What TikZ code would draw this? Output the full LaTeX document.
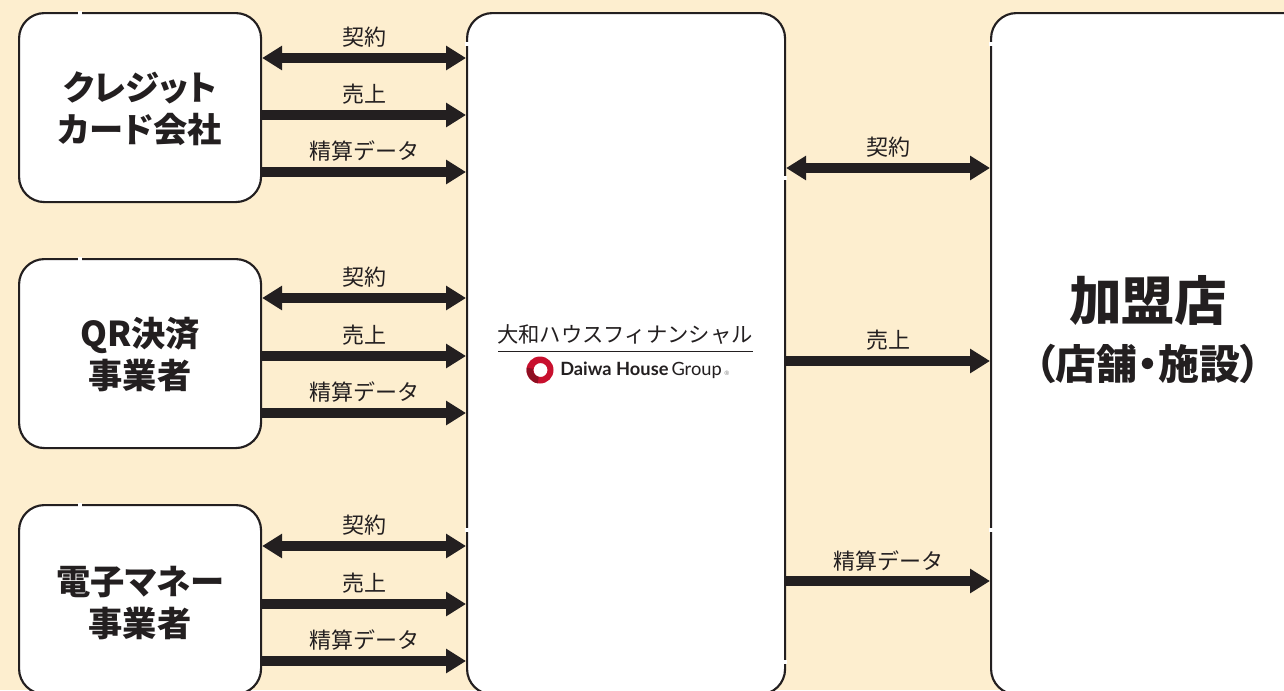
\documentclass[tikz,border=0pt]{standalone}
\usepackage{fontspec}
\setmainfont{Noto Sans CJK JP}
\newfontfamily\headfont{Noto Sans CJK JP}[RawFeature=+palt]
\newfontfamily\logofont{Lato}
\usetikzlibrary{arrows.meta}
\definecolor{creamback}{HTML}{FDEECF}
\definecolor{inkline}{HTML}{231F20}
\definecolor{logored}{HTML}{C8102E}
\definecolor{logodark}{HTML}{8E0F22}
\tikzset{
	partybox/.style={draw=inkline,fill=white,line width=1.6pt,rounded corners=19pt,anchor=north west,inner sep=0pt},
	boxtext/.style={align=center,text=inkline,font=\headfont\bfseries\fontsize{25.7}{31.5}\selectfont,inner sep=0pt},
	flowlabel/.style={text=inkline,font=\fontsize{16.5}{18}\selectfont,inner sep=0pt},
	oneway/.style={draw=inkline,line width=6.8pt,-{Triangle[length=15pt,width=17.5pt,inkline]}},
	twoway/.style={draw=inkline,line width=6.8pt,{Triangle[length=15pt,width=17.5pt,inkline]}-{Triangle[length=15pt,width=17.5pt,inkline]}},
	gapmark/.style={draw=white,line width=2.4pt}
}
\begin{document}
\begin{tikzpicture}[x=0.75pt,y=-0.75pt,line join=round]
	\useasboundingbox (0,0) rectangle (1284,690);
	\clip (0,0) rectangle (1284,690);
	\fill[creamback] (0,0) rectangle (1284,690);
	% boxes
	\node[partybox,minimum width=181.5pt,minimum height=141.75pt] (cardbox) at (18,12) {};
	\node[partybox,minimum width=181.5pt,minimum height=141.75pt] (qrbox) at (18,258) {};
	\node[partybox,minimum width=181.5pt,minimum height=141.75pt] (moneybox) at (18,504) {};
	\node[partybox,minimum width=238.5pt,minimum height=511pt] (finbox) at (466,12) {};
	\node[partybox,minimum width=238.5pt,minimum height=511pt] (shopbox) at (990,12) {};
	\node[boxtext] (cardtext) at (140,109) {クレジット\\カード会社};
	\node[boxtext] (qrtext) at (140,355) {QR決済\\事業者};
	\node[boxtext] (moneytext) at (140,603) {電子マネー\\事業者};
	\node[boxtext,font=\headfont\bfseries\fontsize{39.5}{50}\selectfont] (shoptext) at (1148,300) {加盟店};
	\node[boxtext,font=\headfont\bfseries\fontsize{30.7}{36}\selectfont] (shopsub) at (1148,364) {（店舗・施設）};
	% small breaks in the outlines
	\foreach \y in {13,259,505} \draw[gapmark] (80,\y-2)--(80,\y+2);
	\foreach \y in {44,530} \draw[gapmark] (467,\y-2)--(467,\y+2) (991,\y-2)--(991,\y+2);
	\foreach \y in {178,662} \draw[gapmark] (785,\y-2)--(785,\y+2);
	% left arrows
	\foreach \src/\a/\b/\c in {cardbox/58/115/172,qrbox/298/356/413,moneybox/546/604/661}{
		\draw[twoway] (\src.east |- 0,\a) -- (finbox.west |- 0,\a);
		\draw[oneway] (\src.east |- 0,\b) -- (finbox.west |- 0,\b);
		\draw[oneway] (\src.east |- 0,\c) -- (finbox.west |- 0,\c);
		\node[flowlabel] (\src a) at (364,\a-20.5) {契約};
		\node[flowlabel] (\src b) at (364,\b-20.5) {売上};
		\node[flowlabel] (\src c) at (364,\c-20.5) {精算データ};
	}
	% right arrows
	\draw[twoway] (finbox.east |- 0,168) -- (shopbox.west |- 0,168);
	\draw[oneway] (finbox.east |- 0,361) -- (shopbox.west |- 0,361);
	\draw[oneway] (finbox.east |- 0,581) -- (shopbox.west |- 0,581);
	\node[flowlabel] (shopa) at (888,147) {契約};
	\node[flowlabel] (shopb) at (888,340) {売上};
	\node[flowlabel] (shopc) at (888,561) {精算データ};
	% logo
	\node[text=inkline,font=\fontsize{16}{20}\selectfont,inner sep=0pt] (finname) at (625,335) {大和ハウスフィナンシャル};
	\draw[inkline,line width=0.8pt] (498,351.5)--(753,351.5);
	\fill[logored,even odd rule] (540,370) circle (13.5) (540.5,370) circle (7);
	\fill[logodark] (540,370) ++(100:13.5) arc (100:190:13.5) -- ++(190:-6.5) arc (190:100:7) -- cycle;
	\node[anchor=west,text=inkline,inner sep=0pt,font=\logofont\fontsize{13.7}{16}\selectfont] (groupname) at (560,370.5) {\textbf{Daiwa House}\,Group};
	\node[anchor=west,text=gray,inner sep=0pt,font=\logofont\fontsize{4.5}{5}\selectfont] (groupmark) at (724,373) {®};
\end{tikzpicture}
\end{document}
